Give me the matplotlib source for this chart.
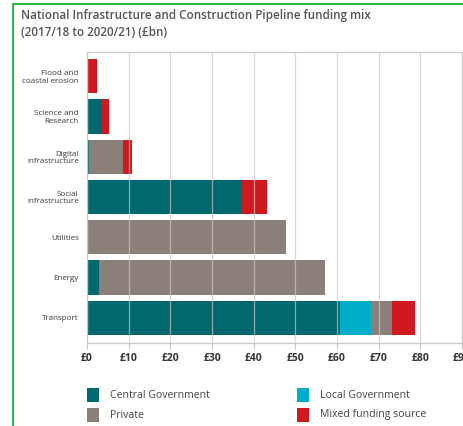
import matplotlib.pyplot as plt
import matplotlib.patches as patches
import numpy as np

# funding mix by sector, £bn, listed bottom to top
sectors = ['Transport', 'Energy', 'Utilities', 'Social\ninfrastructure',
           'Digital\ninfrastructure', 'Science and\nResearch', 'Flood and\ncoastal erosion']
central = [60.6, 2.8, 0.0, 37.1, 0.55, 3.7, 0.0]
local = [7.5, 0.0, 0.0, 0.0, 0.0, 0.0, 0.0]
private = [5.0, 54.3, 47.7, 0.0, 8.05, 0.0, 0.0]
mixed = [5.6, 0.0, 0.0, 6.1, 2.3, 1.5, 2.3]

series_names = ['Central Government', 'Local Government', 'Private', 'Mixed funding source']
colours = ['#00686e', '#00adc9', '#8b7f7a', '#d0191f']
ticks = np.arange(0, 100, 10)

plt.rcParams['font.family'] = ['Open Sans', 'DejaVu Sans']

fig = plt.figure(figsize=(4.63, 4.26), dpi=100)
ax = fig.add_axes([87 / 463, 83 / 426, 375 / 463, 291 / 426])

y = np.arange(len(sectors))
left = np.zeros(len(sectors))
for vals, c in zip([central, local, private, mixed], colours):
    vals = np.array(vals)
    ax.barh(y, vals, left=left, height=0.85, color=c, zorder=2)
    left += vals

ax.set_xlim(0, 90)
ax.set_ylim(-0.63, 6.6)
ax.set_xticks(ticks)
ax.set_xticklabels(['£%d' % t for t in ticks], fontsize=7.5, fontweight='bold', color='#333333')
ax.set_yticks(y)
ax.set_yticklabels(sectors, fontsize=5.8, color='#3a3a3a', linespacing=1.1)
ax.tick_params(axis='y', length=0, pad=6)
ax.tick_params(axis='x', length=4, color='#c8c3c0', pad=3)

ax.grid(axis='x', color='#cdc8c5', linewidth=0.9, zorder=3, alpha=0.7)
ax.set_axisbelow(False)
for s in ['left', 'top', 'bottom', 'right']:
    ax.spines[s].set_color('#cdc8c5')
    ax.spines[s].set_linewidth(0.9)

fig.text(21 / 463, 1 - 24 / 426, 'National Infrastructure and Construction Pipeline funding mix\n(2017/18 to 2020/21) (£bn)',
         fontsize=8.4, fontweight='semibold', color='#555555', va='center', ha='left', linespacing=1.45)

# legend
pos = [(87, 395), (297, 395), (87, 415), (297, 415)]
for name, c, (px, py) in zip(series_names, colours, pos):
    fig.add_artist(patches.Rectangle((px / 463, 1 - (py + 7) / 426), 12 / 463, 14 / 426,
                                     transform=fig.transFigure, facecolor=c, edgecolor='none'))
    fig.text((px + 23) / 463, 1 - py / 426, name, fontsize=7.6, color='#444444', va='center', ha='left')

# green frame
fig.add_artist(patches.Rectangle((12.7 / 463, -0.1), 1.2, 1.1 - 4 / 426, transform=fig.transFigure,
                                 facecolor='none', edgecolor='#2bb54a', linewidth=1.4))

plt.savefig('out.png', dpi=100)
plt.close()
